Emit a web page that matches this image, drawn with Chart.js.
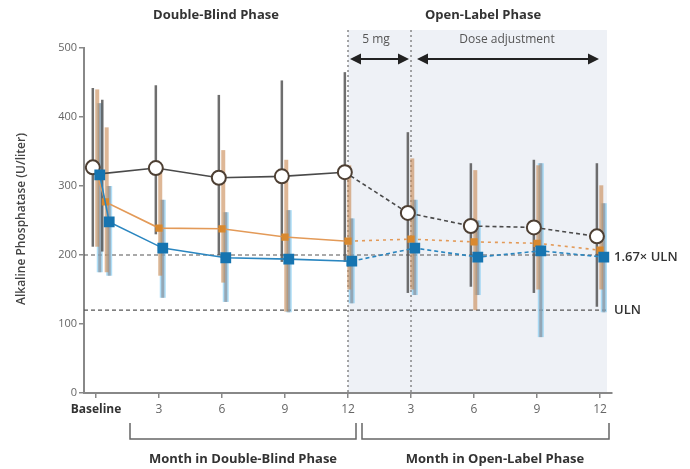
<!DOCTYPE html>
<html><head><meta charset="utf-8">
<script src="https://cdn.jsdelivr.net/npm/chart.js@4/dist/chart.umd.min.js"></script>
<style>html,body{margin:0;padding:0;background:#fff;}#wrap{width:690px;height:469px;position:relative;}</style>
</head><body><div id="wrap"><canvas id="c" width="690" height="469"></canvas></div>
<script>
// ---- data ----
const timeLabels = ["Baseline","2 wk","DB 3","DB 6","DB 9","DB 12","OL 3","OL 6","OL 9","OL 12"];
const timePos = [0, 0.15, 1, 2, 3, 4, 5, 6, 7, 8];
const xTickPos = [0, 1, 2, 3, 4, 5, 6, 7, 8];
const xTickLabels = ["Baseline","3","6","9","12","3","6","9","12"];

const placebo     = [327, 318, 326, 312, 314, 320, 261, 242, 240, 227];
const placeboLow  = [212, 205, 230, 200, 190, 190, 145, 154, 145, 125];
const placeboHigh = [442, 425, 446, 432, 453, 465, 378, 333, 338, 333];

const ocaTitr     = [322, 277, 239, 238, 226, 220, 223, 219, 217, 207];
const ocaTitrLow  = [212, 175, 170, 160, 118, 150, 150, 120, 150, 150];
const ocaTitrHigh = [440, 385, 320, 352, 338, 330, 340, 323, 330, 301];

const oca10       = [316, 248, 210, 196, 194, 191, 210, 197, 206, 197];
const oca10Low    = [175, 170, 138, 132, 117, 130, 142, 142, 81, 117];
const oca10High   = [420, 300, 280, 262, 265, 253, 280, 250, 333, 275];

const ulnValue = 120;
const uln167Value = 200;

// ---- build ----
const FONT = "'Open Sans', 'DejaVu Sans', sans-serif";
const dbEndIdx = 5;
const offs = {placebo: -0.05, titr: 0.0, oca10: 0.06};
function pts(vals, off){ return vals.map((v,i)=>({x: timePos[i] + off, y: v})); }
const dashSeg = { borderDash: ctx => ctx.p0DataIndex >= dbEndIdx ? [4,3] : undefined };

const decor = {
  id: 'decor',
  beforeDraw(chart){
    const {ctx, scales:{x, y}, chartArea:a} = chart;
    ctx.save();
    ctx.fillStyle = '#eef1f6';
    const x0 = x.getPixelForValue(4), x1 = x.getPixelForValue(8.11);
    const yt = y.getPixelForValue(526);
    ctx.fillRect(x0, yt, x1 - x0, a.bottom - yt);
    ctx.restore();
  },
  beforeDatasetsDraw(chart){
    const {ctx, scales:{x, y}, chartArea:a} = chart;
    ctx.save();
    ctx.strokeStyle = '#555'; ctx.lineWidth = 1.2; ctx.setLineDash([4,3]);
    [uln167Value, ulnValue].forEach(v=>{
      const py = y.getPixelForValue(v);
      ctx.beginPath(); ctx.moveTo(a.left, py); ctx.lineTo(x.getPixelForValue(8.11), py); ctx.stroke();
    });
    ctx.strokeStyle = '#777'; ctx.lineWidth = 1.3; ctx.setLineDash([2,3]);
    [4,5].forEach(v=>{
      const px = x.getPixelForValue(v);
      ctx.beginPath(); ctx.moveTo(px, y.getPixelForValue(526)); ctx.lineTo(px, a.bottom); ctx.stroke();
    });
    ctx.setLineDash([]);
    const bars = [
      {lo: oca10Low, hi: oca10High, off: offs.oca10, w: 6, c: 'rgba(110,195,240,0.55)'},
      {lo: oca10Low, hi: oca10High, off: offs.oca10, w: 3, c: 'rgba(140,150,160,0.75)'},
      {lo: ocaTitrLow, hi: ocaTitrHigh, off: offs.titr + 0.02, w: 4, c: 'rgba(200,135,80,0.6)'},
      {lo: placeboLow, hi: placeboHigh, off: offs.placebo, w: 2.5, c: 'rgba(85,85,85,0.85)'}
    ];
    bars.forEach(b=>{
      ctx.fillStyle = b.c;
      b.lo.forEach((lo,i)=>{
        const px = x.getPixelForValue(timePos[i] + b.off);
        const py1 = y.getPixelForValue(b.hi[i]), py2 = y.getPixelForValue(lo);
        ctx.fillRect(px - b.w/2, py1, b.w, py2 - py1);
      });
    });
    ctx.restore();
  },
  afterDraw(chart){
    const {ctx, scales:{x, y}, chartArea:a} = chart;
    ctx.save();
    ctx.fillStyle = '#333'; ctx.textAlign = 'center'; ctx.textBaseline = 'middle';
    ctx.font = `bold 13px ${FONT}`;
    ctx.fillText('Double-Blind Phase', 216, 15);
    ctx.fillText('Open-Label Phase', 483, 15);
    ctx.font = `12px ${FONT}`; ctx.fillStyle = '#555';
    ctx.fillText('5 mg', 376, 40);
    ctx.fillText('Dose adjustment', 507, 40);
    function arrow(xa, xb, yy){
      ctx.strokeStyle = '#222'; ctx.fillStyle = '#222'; ctx.lineWidth = 2;
      ctx.beginPath(); ctx.moveTo(xa + 6, yy); ctx.lineTo(xb - 6, yy); ctx.stroke();
      ctx.beginPath(); ctx.moveTo(xa, yy); ctx.lineTo(xa + 11, yy - 5.5); ctx.lineTo(xa + 11, yy + 5.5); ctx.closePath(); ctx.fill();
      ctx.beginPath(); ctx.moveTo(xb, yy); ctx.lineTo(xb - 11, yy - 5.5); ctx.lineTo(xb - 11, yy + 5.5); ctx.closePath(); ctx.fill();
    }
    arrow(x.getPixelForValue(4) + 2, x.getPixelForValue(5) - 2, 59);
    arrow(x.getPixelForValue(5) + 6, x.getPixelForValue(8) - 1, 59);
    ctx.textAlign = 'left'; ctx.fillStyle = '#333'; ctx.font = `600 13px ${FONT}`;
    ctx.fillText('1.67\u00d7 ULN', 614, y.getPixelForValue(uln167Value) + 2);
    ctx.fillText('ULN', 614, y.getPixelForValue(ulnValue));
    ctx.save();
    ctx.translate(22, 219); ctx.rotate(-Math.PI/2);
    ctx.textAlign = 'center'; ctx.font = `600 12px ${FONT}`; ctx.fillStyle = '#444';
    ctx.fillText('Alkaline Phosphatase (U/liter)', 0, 0);
    ctx.restore();
    ctx.strokeStyle = '#666'; ctx.lineWidth = 1.5;
    function bracket(xa, xb){
      ctx.beginPath(); ctx.moveTo(xa, 423); ctx.lineTo(xa, 439); ctx.lineTo(xb, 439); ctx.lineTo(xb, 423); ctx.stroke();
    }
    bracket(130, 356);
    bracket(362, 609);
    ctx.fillStyle = '#333'; ctx.textAlign = 'center'; ctx.font = `bold 13px ${FONT}`;
    ctx.fillText('Month in Double-Blind Phase', 243, 459);
    ctx.fillText('Month in Open-Label Phase', 495, 459);
    ctx.restore();
  }
};

new Chart(document.getElementById('c'), {
  type: 'scatter',
  data: {
    datasets: [
      { label: 'OCA 10 mg', data: pts(oca10, offs.oca10), showLine: true,
        borderColor: '#2a86c0', borderWidth: 1.6, pointStyle: 'rect', pointRadius: 6.5,
        pointBackgroundColor: '#1674b0', pointBorderColor: '#1674b0', segment: dashSeg, order: 1 },
      { label: 'Placebo', data: pts(placebo, offs.placebo), showLine: true,
        borderColor: '#4a4a4a', borderWidth: 1.6, pointStyle: 'circle',
        pointRadius: placebo.map((v,i)=> i === 1 ? 0 : 7),
        pointBackgroundColor: '#fff', pointBorderColor: '#4d3f33', pointBorderWidth: 2, segment: dashSeg, order: 2 },
      { label: 'OCA 5-10 mg', data: pts(ocaTitr, offs.titr), showLine: true,
        borderColor: '#e39a58', borderWidth: 1.6, pointStyle: 'rect', pointRadius: 4,
        pointBackgroundColor: '#d9892f', pointBorderColor: '#d9892f', segment: {borderDash: ctx => ctx.p0DataIndex >= dbEndIdx ? [3,4] : undefined}, order: 3 }
    ]
  },
  options: {
    responsive: false, animation: false, devicePixelRatio: 1,
    layout: { padding: { top: 48, right: 78, left: 0, bottom: 0 } },
    plugins: { legend: { display: false }, tooltip: { enabled: false } },
    scales: {
      x: {
        type: 'linear', min: -0.19, max: 8.19,
        afterBuildTicks: s => { s.ticks = xTickPos.map(v => ({value: v})); },
        afterFit: s => { s.height = 76; },
        ticks: {
          autoSkip: false, maxRotation: 0, padding: 4,
          callback: (v, i) => xTickLabels[i],
          font: c => c.index === 0 ? {family: FONT, size: 12, weight: 'bold'} : {family: FONT, size: 12},
          color: c => c.index === 0 ? '#333' : '#666'
        },
        grid: { drawOnChartArea: false, drawTicks: true, tickLength: 5, color: '#888', lineWidth: 1.5 },
        border: { color: '#888', width: 2 }
      },
      y: {
        min: 0, max: 500,
        afterFit: s => { s.width = 84; },
        ticks: { stepSize: 100, padding: 2, color: '#666', font: {family: FONT, size: 11} },
        grid: { drawOnChartArea: false, drawTicks: true, tickLength: 5, color: '#888', lineWidth: 1.5 },
        border: { color: '#888', width: 2 }
      }
    }
  },
  plugins: [decor]
});
</script></body></html>
